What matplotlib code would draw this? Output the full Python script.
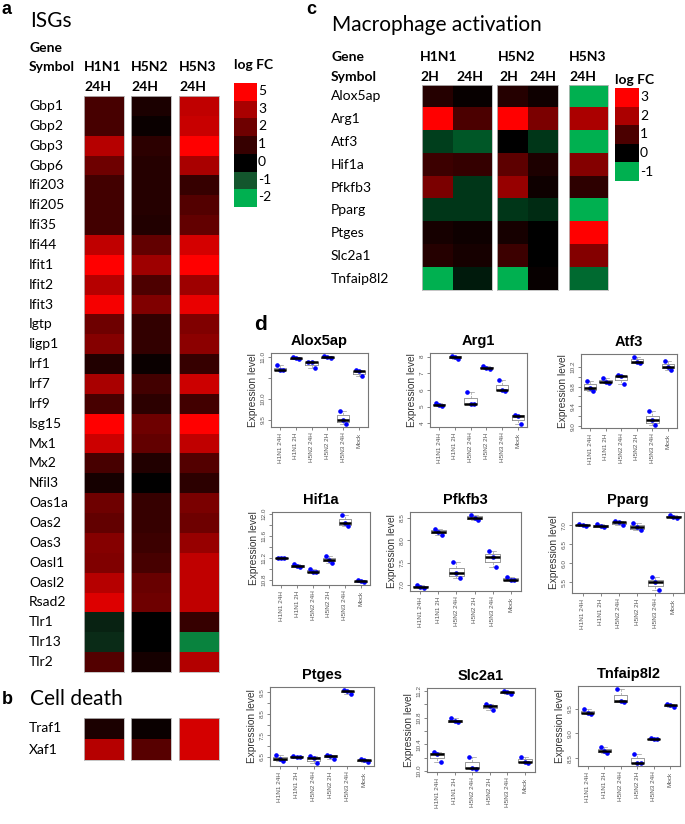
import numpy as np
import matplotlib
matplotlib.use("Agg")
import matplotlib.pyplot as plt
from matplotlib.colors import LinearSegmentedColormap, Normalize

W, H = 685, 824

# ---- panel a / b data (log FC) ----
isg_genes = ["Gbp1", "Gbp2", "Gbp3", "Gbp6", "Ifi203", "Ifi205", "Ifi35", "Ifi44", "Ifit1",
             "Ifit2", "Ifit3", "Igtp", "Iigp1", "Irf1", "Irf7", "Irf9", "Isg15", "Mx1", "Mx2",
             "Nfil3", "Oas1a", "Oas2", "Oas3", "Oasl1", "Oasl2", "Rsad2", "Tlr1", "Tlr13", "Tlr2"]
isg_h1n1 = [1.3, 1.3, 3.3, 2.0, 1.2, 1.2, 1.2, 3.5, 5.0, 3.3, 4.8, 2.0, 2.4, 0.6, 3.0, 1.3, 5.0,
            3.8, 1.3, 0.4, 2.0, 1.8, 2.4, 2.3, 3.3, 4.2, -0.4, -0.5, 1.5]
isg_h5n2 = [0.5, 0.2, 0.8, 0.7, 0.7, 0.7, 0.6, 1.8, 2.8, 1.4, 2.3, 0.9, 0.9, 0.2, 1.2, 0.8, 2.0,
            1.8, 0.6, 0.05, 1.0, 1.0, 1.1, 1.3, 1.9, 2.0, 0.0, 0.0, 0.4]
isg_h5n3 = [3.5, 3.7, 5.0, 3.0, 1.0, 1.5, 1.8, 4.0, 5.0, 2.8, 4.5, 2.3, 2.5, 1.0, 3.8, 1.2, 5.0,
            3.5, 1.5, 0.8, 2.2, 2.0, 2.7, 3.5, 3.5, 3.5, 1.0, -1.5, 3.2]
death_genes = ["Traf1", "Xaf1"]
death_h1n1 = [0.5, 3.3]
death_h5n2 = [0.2, 1.6]
death_h5n3 = [4.0, 4.0]
a_levels = [5, 3, 2, 1, 0, -1, -2]

# ---- panel c data (log FC) ----
mac_genes = ["Alox5ap", "Arg1", "Atf3", "Hif1a", "Pfkfb3", "Pparg", "Ptges", "Slc2a1", "Tnfaip8l2"]
mac_h1n1_2h = [0.5, 3.0, -0.35, 0.8, 1.5, -0.3, 0.3, 0.5, -1.0]
mac_h1n1_24h = [0.1, 1.0, -0.5, 0.7, -0.3, -0.3, 0.2, 0.3, -0.15]
mac_h5n2_2h = [0.5, 3.0, 0.0, 1.2, 1.8, -0.3, 0.3, 0.8, -1.0]
mac_h5n2_24h = [0.2, 1.5, -0.3, 0.4, 0.2, -0.25, 0.0, 0.0, 0.1]
mac_h5n3_24h = [-1.0, 2.0, -1.0, 1.6, 0.6, -1.0, 3.0, 1.6, -0.6]
c_levels = [3, 2, 1, 0, -1]

# ---- panel d data (expression level, 3 replicates per group) ----
groups = ["H1N1 24H", "H1N1 2H", "H5N2 24H", "H5N2 2H", "H5N3 24H", "Mock"]
alox5ap = [[10.79, 10.69, 10.67], [10.98, 10.96, 10.94], [10.88, 10.86, 10.73],
           [11.02, 10.98, 10.97], [9.70, 9.50, 9.39], [10.67, 10.65, 10.53]]
arg1 = [[5.20, 5.10, 5.04], [8.06, 8.00, 7.86], [5.90, 5.14, 5.14],
        [7.45, 7.33, 7.28], [6.60, 6.00, 5.94], [4.50, 4.44, 3.94]]
atf3 = [[9.92, 9.77, 9.70], [9.97, 9.90, 9.87], [10.03, 10.01, 9.85],
        [10.40, 10.29, 10.27], [9.30, 9.13, 9.02], [10.31, 10.20, 10.14]]
hif1a = [[11.20, 11.20, 11.20], [11.09, 11.05, 11.04], [11.00, 10.95, 10.94],
         [11.23, 11.17, 11.11], [11.99, 11.83, 11.79], [10.80, 10.78, 10.76]]
pfkfb3 = [[6.99, 6.96, 6.93], [8.26, 8.19, 8.13], [7.51, 7.26, 7.15],
          [8.57, 8.50, 8.45], [7.77, 7.62, 7.40], [7.17, 7.12, 7.10]]
pparg = [[7.03, 7.00, 6.99], [7.04, 6.97, 6.96], [7.11, 7.08, 7.00],
         [7.06, 6.96, 6.87], [5.64, 5.50, 5.30], [7.27, 7.22, 7.20]]
ptges = [[6.60, 6.39, 6.32], [6.55, 6.50, 6.47], [6.55, 6.42, 6.20],
         [6.57, 6.55, 6.39], [9.62, 9.55, 9.45], [6.40, 6.33, 6.25]]
slc2a1 = [[10.28, 10.25, 10.14], [10.79, 10.75, 10.73], [10.21, 10.05, 10.03],
          [11.00, 10.97, 10.92], [11.20, 11.18, 11.15], [10.21, 10.14, 10.12]]
tnfaip8l2 = [[9.49, 9.42, 9.40], [8.73, 8.65, 8.60], [9.90, 9.65, 9.63],
             [8.58, 8.41, 8.40], [8.90, 8.89, 8.89], [9.60, 9.57, 9.53]]
box_genes = ["Alox5ap", "Arg1", "Atf3", "Hif1a", "Pfkfb3", "Pparg", "Ptges", "Slc2a1", "Tnfaip8l2"]
box_data = [alox5ap, arg1, atf3, hif1a, pfkfb3, pparg, ptges, slc2a1, tnfaip8l2]
box_yticks = [[9.5, 10.0, 10.5, 11.0], [4, 5, 6, 7, 8], [9.0, 9.2, 9.4, 9.6, 9.8, 10.0, 10.2],
              [10.8, 11.0, 11.2, 11.4, 11.6, 11.8, 12.0], [7.0, 7.5, 8.0, 8.5],
              [5.5, 6.0, 6.5, 7.0], [6.5, 7.0, 7.5, 8.0, 8.5, 9.0, 9.5],
              [10.0, 10.2, 10.4, 10.6, 10.8, 11.0, 11.2], [8.5, 9.0, 9.5]]
box_ylabels = [["9.5", "10.0", "", "11.0"], ["4", "5", "6", "7", "8"],
               ["9.0", "", "9.4", "", "9.8", "", "10.2"],
               ["10.8", "", "11.2", "", "11.6", "", "12.0"], ["7.0", "7.5", "8.0", "8.5"],
               ["5.5", "6.0", "6.5", "7.0"], ["6.5", "", "7.5", "", "8.5", "", "9.5"],
               ["10.0", "", "10.4", "", "10.8", "", "11.2"], ["8.5", "9.0", "9.5"]]

# ---- colours ----
a_cols = [(0, 176/255, 80/255), (20/255, 85/255, 45/255), (0, 0, 0), (55/255, 0, 0),
          (110/255, 0, 0), (170/255, 0, 0), (1, 0, 0)]
a_anchor = [-2, -1, 0, 1, 2, 3, 5]
cmap_a = LinearSegmentedColormap.from_list("a", [((v + 2) / 7, c) for v, c in zip(a_anchor, a_cols)])
norm_a = Normalize(-2, 5)
c_cols = [(0, 176/255, 80/255), (0, 0, 0), (75/255, 0, 0), (170/255, 0, 0), (1, 0, 0)]
c_anchor = [-1, 0, 1, 2, 3]
cmap_c = LinearSegmentedColormap.from_list("c", [((v + 1) / 4, c) for v, c in zip(c_anchor, c_cols)])
norm_c = Normalize(-1, 3)

hfont = "Lato"
fig = plt.figure(figsize=(W / 100, H / 100), dpi=100)


def px_ax(x0, y0, x1, y1):
    return fig.add_axes([x0 / W, 1 - y1 / H, (x1 - x0) / W, (y1 - y0) / H])


def ftext(x, y, s, **kw):
    kw.setdefault("family", hfont)
    kw.setdefault("va", "center")
    fig.text(x / W, 1 - y / H, s, **kw)


def heat_col(x0, y0, x1, y1, vals, cmap, norm):
    ax = px_ax(x0, y0, x1, y1)
    ax.imshow(np.array(vals, dtype=float).reshape(-1, 1), cmap=cmap, norm=norm,
              aspect="auto", interpolation="nearest")
    ax.set_xticks([])
    ax.set_yticks([])
    for s in ax.spines.values():
        s.set_color("#bbbbbb")
        s.set_linewidth(0.6)
    return ax


# ---- panel a ----
ftext(2, 9, "a", family="Liberation Sans", fontsize=13, weight="bold")
ftext(30, 21, "ISGs", fontsize=15)
ftext(29, 48, "Gene", fontsize=10, weight="bold")
ftext(29, 67, "Symbol", fontsize=10, weight="bold")
a_x = [(84, 124), (131, 171), (179, 219)]
for (x0, x1), nm in zip(a_x, ["H1N1", "H5N2", "H5N3"]):
    ftext(x0, 67, nm, fontsize=10, weight="bold")
    ftext(x0, 87, "24H", fontsize=10, weight="bold")
top, bot = 96, 672
rh = (bot - top) / len(isg_genes)
for i, g in enumerate(isg_genes):
    ftext(29, top + rh * (i + 0.5), g, fontsize=10)
for (x0, x1), vals in zip(a_x, [isg_h1n1, isg_h5n2, isg_h5n3]):
    heat_col(x0, top, x1, bot, vals, cmap_a, norm_a)

# colour key a
ftext(234, 65, "log FC", fontsize=10, weight="bold")
kax = px_ax(234, 83, 257, 207)
kax.imshow(np.array(a_levels, dtype=float).reshape(-1, 1), cmap=cmap_a, norm=norm_a,
           aspect="auto", interpolation="nearest")
kax.set_xticks([])
kax.set_yticks([])
for s in kax.spines.values():
    s.set_visible(False)
kh = (207 - 83) / len(a_levels)
for i, lv in enumerate(a_levels):
    ftext(258, 83 + kh * (i + 0.45), str(lv), fontsize=10)

# ---- panel b ----
ftext(2, 699, "b", family="Liberation Sans", fontsize=13, weight="bold")
ftext(30, 699, "Cell death", fontsize=15)
btop, bbot = 718, 760
bh = (bbot - btop) / len(death_genes)
for i, g in enumerate(death_genes):
    ftext(29, btop + bh * (i + 0.5), g, fontsize=10)
for (x0, x1), vals in zip(a_x, [death_h1n1, death_h5n2, death_h5n3]):
    heat_col(x0, btop, x1, bbot, vals, cmap_a, norm_a)

# ---- panel c ----
ftext(306, 10, "c", family="Liberation Sans", fontsize=13, weight="bold")
ftext(332, 25, "Macrophage activation", fontsize=15)
ftext(331, 57, "Gene", fontsize=10, weight="bold")
ftext(331, 77, "Symbol", fontsize=10, weight="bold")
ftext(420, 57, "H1N1", fontsize=10, weight="bold")
ftext(498, 57, "H5N2", fontsize=10, weight="bold")
ftext(569, 57, "H5N3", fontsize=10, weight="bold")
for x, s in [(420, "2H"), (456, "24H"), (499, "2H"), (529, "24H"), (569, "24H")]:
    ftext(x, 77, s, fontsize=10, weight="bold")
ctop, cbot = 85, 290
ch = (cbot - ctop) / len(mac_genes)
for i, g in enumerate(mac_genes):
    ftext(331, ctop + ch * (i + 0.5), g, fontsize=10)
c_x = [(422, 453), (453, 492), (497, 528), (528, 558), (569, 608)]
c_vals = [mac_h1n1_2h, mac_h1n1_24h, mac_h5n2_2h, mac_h5n2_24h, mac_h5n3_24h]
for (x0, x1), vals in zip(c_x, c_vals):
    ax = heat_col(x0, ctop, x1, cbot, vals, cmap_c, norm_c)
    for s in ax.spines.values():
        s.set_visible(False)
for x0, x1 in [(422, 492), (497, 558), (569, 608)]:
    fr = px_ax(x0, ctop, x1, cbot)
    fr.patch.set_alpha(0)
    fr.set_xticks([])
    fr.set_yticks([])
    for s in fr.spines.values():
        s.set_color("#bbbbbb")
        s.set_linewidth(0.6)

ftext(615, 80, "log FC", fontsize=10, weight="bold")
kax = px_ax(615, 88, 639, 181)
kax.imshow(np.array(c_levels, dtype=float).reshape(-1, 1), cmap=cmap_c, norm=norm_c,
           aspect="auto", interpolation="nearest")
kax.set_xticks([])
kax.set_yticks([])
for s in kax.spines.values():
    s.set_visible(False)
kh = (181 - 88) / len(c_levels)
for i, lv in enumerate(c_levels):
    ftext(640, 88 + kh * (i + 0.5), str(lv), fontsize=10)

# ---- panel d ----
ftext(254, 325, "d", family="Liberation Sans", fontsize=15, weight="bold")
box_pos = [(271, 353, 368, 427), (430, 353, 527, 427), (581, 354, 677, 428),
           (272, 512, 370, 585), (410, 512, 521, 591), (572, 512, 684, 593),
           (270, 687, 374, 766), (427, 688, 535, 772), (578, 686, 680, 766)]
jit = [-0.2, 0.0, 0.2]
for gname, data, pos, yt, yl in zip(box_genes, box_data, box_pos, box_yticks, box_ylabels):
    ax = px_ax(*pos)
    xs = np.arange(1, len(groups) + 1)
    ax.boxplot(data, positions=xs, widths=0.8, whis=(0, 100), showfliers=False,
               medianprops=dict(color="black", lw=1.8),
               boxprops=dict(color="#8a8a8a", lw=0.6),
               whiskerprops=dict(color="#9a9a9a", lw=0.5, ls="--"),
               capprops=dict(color="#9a9a9a", lw=0.5))
    for x, reps in zip(xs, data):
        ax.plot(x + np.array(jit[:len(reps)]), reps, "o", color="#0000ff", ms=2.3, mec="#0000ff")
    allv = np.concatenate([np.array(r) for r in data])
    lo, hi = allv.min(), allv.max()
    pad = 0.04 * (hi - lo)
    ax.set_ylim(lo - pad, hi + pad)
    ax.set_xlim(0.42, len(groups) + 0.58)
    ax.set_yticks(yt)
    ax.set_yticklabels(yl, rotation=90, va="center", fontsize=4.6,
                       family="Liberation Sans", color="#333333")
    ax.set_xticks(xs)
    ax.set_xticklabels(groups, rotation=90, fontsize=4.6, family="Liberation Sans",
                       color="#333333")
    ax.tick_params(length=2.5, width=0.5, pad=1.5, colors="#555555")
    for s in ax.spines.values():
        s.set_color("#777777")
        s.set_linewidth(0.8)
    ax.set_ylabel("Expression level", fontsize=7.3, family="Liberation Sans",
                  color="#333333", labelpad=2)
    ax.set_title(gname, fontsize=10.5, weight="bold", family="Liberation Sans", pad=6)

fig.savefig("out.png", dpi=100)
